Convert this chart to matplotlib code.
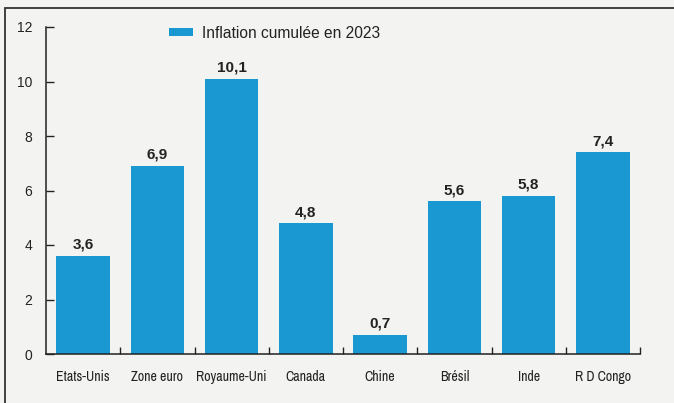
import matplotlib
matplotlib.use('Agg')
import matplotlib.pyplot as plt
from matplotlib.patches import Rectangle

pays = ['Etats-Unis', 'Zone euro', 'Royaume-Uni', 'Canada', 'Chine', 'Brésil', 'Inde', 'R D Congo']
inflation = [3.6, 6.9, 10.1, 4.8, 0.7, 5.6, 5.8, 7.4]
etiquettes = ['3,6', '6,9', '10,1', '4,8', '0,7', '5,6', '5,8', '7,4']
yticks = [0, 2, 4, 6, 8, 10, 12]

bleu = '#1a98d2'
fond = '#f3f3f1'
texte = '#222222'
narrow = 'Archivo Narrow'

fig = plt.figure(figsize=(6.74, 4.03), dpi=100, facecolor=fond)
ax = fig.add_axes([46/674, 1-354/403, (640-46)/674, (354-27)/403])
ax.set_facecolor(fond)

x = range(len(pays))
bars = ax.bar(x, inflation, width=0.72, color=bleu, label='Inflation cumulée en 2023', zorder=2)
for b, lab in zip(bars, etiquettes):
    ax.text(b.get_x()+b.get_width()/2, b.get_height()+0.15, lab, ha='center', va='bottom',
            fontsize=11, fontweight='bold', color=texte, family='Liberation Sans')

ax.set_xlim(-0.5, len(pays)-0.5)
ax.set_ylim(0, 12)
ax.set_yticks(yticks)
ax.set_yticklabels([str(v) for v in yticks], fontsize=10, color=texte, family='Liberation Sans')
ax.tick_params(axis='y', direction='in', length=6, width=1, pad=10, colors=texte)

ax.set_xticks([i+0.5 for i in x])
ax.set_xticklabels([])
ax.tick_params(axis='x', direction='in', length=5, width=1, colors=texte)
for i, p in enumerate(pays):
    ax.text(i, -0.85, p, ha='center', va='center', fontsize=10, color=texte, family=narrow)

for s in ['top', 'right']:
    ax.spines[s].set_visible(False)
for s in ['left', 'bottom']:
    ax.spines[s].set_color(texte)
    ax.spines[s].set_linewidth(1.1)

leg = ax.legend(loc='center left', bbox_to_anchor=((169-46)/594, (354-33)/327), frameon=False,
                prop={'family': 'Liberation Sans', 'size': 11.2}, borderpad=0, borderaxespad=0,
                handlelength=1.54, handleheight=0.5, handletextpad=0.55)
for t in leg.get_texts():
    t.set_color(texte)

fig.patches.append(Rectangle((5/674, -0.1), 1.2, 1-8/403+0.1, transform=fig.transFigure,
                             fill=False, edgecolor='#333333', linewidth=1.3))

fig.savefig('out.png', dpi=100, facecolor=fond)
